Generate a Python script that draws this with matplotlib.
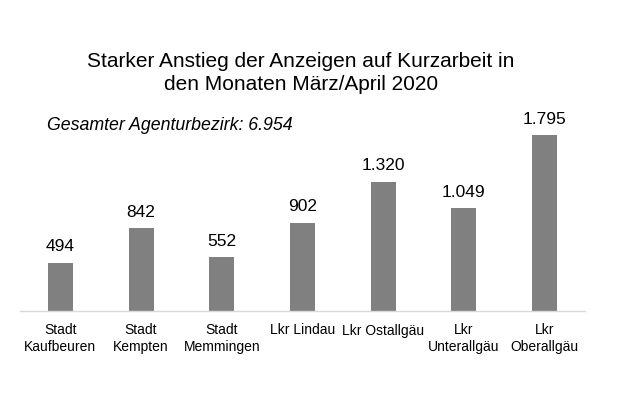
import matplotlib
matplotlib.use("Agg")
import matplotlib.pyplot as plt

categories = ["Stadt\nKaufbeuren", "Stadt\nKempten", "Stadt\nMemmingen", "Lkr Lindau",
              "Lkr Ostallgäu", "Lkr\nUnterallgäu", "Lkr\nOberallgäu"]
values = [494, 842, 552, 902, 1320, 1049, 1795]
labels = ["494", "842", "552", "902", "1.320", "1.049", "1.795"]
title = "Starker Anstieg der Anzeigen auf Kurzarbeit in\nden Monaten März/April 2020"
subtitle = "Gesamter Agenturbezirk: 6.954"

plt.rcParams['font.family'] = ['Liberation Sans', 'DejaVu Sans']

fig = plt.figure(figsize=(6.2, 3.97), dpi=100)
ax = fig.add_axes([20/620, (397-311)/397, 565/620, 191/397])
x = list(range(len(values)))
bars = ax.bar(x, values, width=0.31, color="#808080")
ax.set_xlim(-0.5, 6.5)
ax.set_ylim(0, 1949)
for xi, v, l in zip(x, values, labels):
    ax.annotate(l, (xi, v), xytext=(0, 6), textcoords="offset points",
                ha="center", va="bottom", fontsize=12.5, color="#000000")
for s in ["top", "right", "left"]:
    ax.spines[s].set_visible(False)
ax.spines["bottom"].set_color("#d9d9d9")
ax.spines["bottom"].set_linewidth(1)
ax.set_yticks([])
ax.set_xticks(x)
ax.set_xticklabels(categories, fontsize=10, linespacing=1.25)
ax.tick_params(axis="x", length=0, pad=9)

fig.text(301/620, 1 - 73/397, title, ha="center", va="center", fontsize=15,
         linespacing=1.25)
fig.text(47/620, 1 - 126/397, subtitle, ha="left", va="center", fontsize=12.8,
         style="italic")

fig.savefig("out.png", dpi=100)
